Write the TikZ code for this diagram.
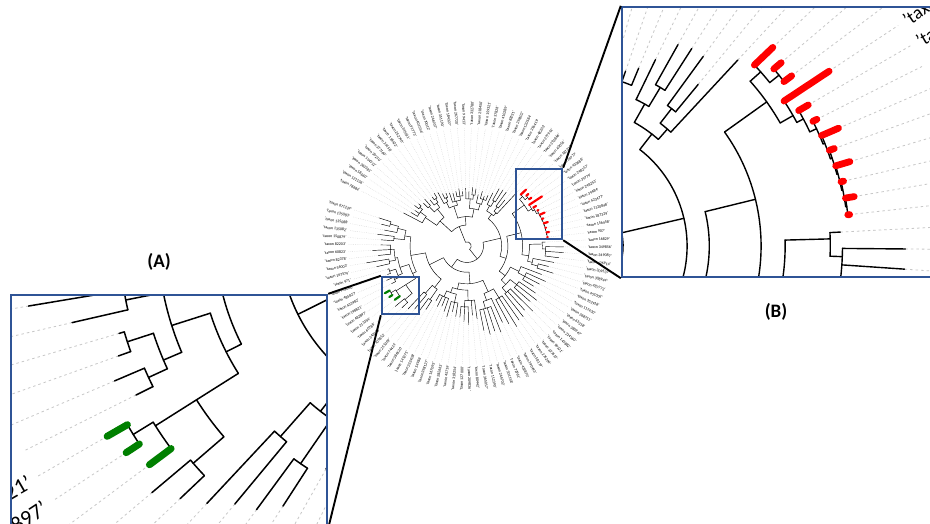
\documentclass[tikz,border=0pt]{standalone}
\usepackage{fontspec}
\setmainfont{Carlito}
\definecolor{boxblue}{RGB}{47,84,150}
\definecolor{tred}{RGB}{255,0,0}
\definecolor{tgreen}{RGB}{0,128,0}
\newcommand\Rdot{113}
\newcommand\Rlab{115}
\newcommand\brw{0.45pt}
\newcommand\colw{2.2pt}
\newcommand\lfs{4}
% node: position p, parent radius, radius, arc from a to b
\newcommand\TN[5]{%
 \draw[tbr] ({lf(#1)}:#2) -- ({lf(#1)}:#3);
 \draw[tbr] ({lf(#4)}:#3) arc[start angle={lf(#4)}, end angle={lf(#5)}, radius=#3];}
% leaf: index, r0, r1
\newcommand\TL[3]{%
 \draw[tdot] ({lf(#1)}:#3) -- ({lf(#1)}:\Rdot);
 \draw[tbr] ({lf(#1)}:#2) -- ({lf(#1)}:#3);}
% coloured leaf: colour, index, r0, r1
\newcommand\TC[4]{%
 \draw[tdot] ({lf(#2)}:#4) -- ({lf(#2)}:\Rdot);
 \draw[tcol=#1] ({lf(#2)}:#3) -- ({lf(#2)}:#4);}
\newcommand\TreeBody{%
 \draw[tbr] ({lf(12)}:4) arc[start angle={lf(12)}, end angle={lf(60)}, radius=4];
 % clade A
 \TN{12}{4}{20}{4.5}{17.5}
 \TN{4.5}{20}{35}{2}{7}
 \TN{2}{35}{48}{0}{2.5} \TL{0}{48}{68}
 \TN{2.5}{48}{55}{1}{3.5} \TL{1}{55}{62} \TL{2}{55}{60}
 \TN{3.5}{55}{58}{3}{4} \TL{3}{58}{63} \TL{4}{58}{61}
 \TN{7}{35}{45}{5.5}{8}
 \TN{5.5}{45}{52}{5}{6} \TL{5}{52}{58} \TL{6}{52}{60}
 \TN{8}{45}{50}{7}{8.5} \TL{7}{50}{56}
 \TN{8.5}{50}{54}{8}{9} \TL{8}{54}{57} \TL{9}{54}{59}
 \TN{17.5}{20}{28}{13}{21.5}
 \TN{13}{28}{40}{11}{14.5}
 \TN{11}{40}{46}{10}{11.5} \TL{10}{46}{58}
 \TN{11.5}{46}{50}{11}{12} \TL{11}{50}{55} \TL{12}{50}{54}
 \TN{14.5}{40}{44}{13}{16} \TL{13}{44}{53} \TL{14}{44}{52}
 \TN{16}{44}{48}{15}{17} \TL{15}{48}{53} \TL{16}{48}{55} \TL{17}{48}{52}
 \TN{21.5}{28}{36}{19.5}{23.5}
 \TN{19.5}{36}{45}{18}{20.5} \TL{18}{45}{55} \TL{19}{45}{52}
 \TN{20.5}{45}{49}{20}{21} \TL{20}{49}{56} \TL{21}{49}{55}
 \TN{23.5}{36}{42}{22}{24} \TL{22}{42}{50}
 \TN{24}{42}{47}{23}{25} \TL{23}{47}{54} \TL{24}{47}{50} \TL{25}{47}{52}
 % clade B
 \TN{60}{4}{15.7}{41}{82}
 \TN{41}{15.7}{33}{29.5}{50}
 \TN{29.5}{33}{38.3}{27}{30.5}
 \TN{27}{38.3}{44}{26}{27.5} \TL{26}{44}{56}
 \TN{27.5}{44}{50}{27}{28} \TL{27}{50}{62.4} \TL{28}{50}{63.4}
 \TN{30.5}{38.3}{42}{29.5}{31} \TL{31}{42}{68.6}
 \TN{29.5}{42}{47}{29}{30} \TL{29}{47}{63.4} \TL{30}{47}{56.6}
 \TN{50}{33}{39}{40.8}{56}
 \TN{40.8}{39}{53}{34.4}{47.5}
 \TN{34.4}{53}{67}{32.6}{36.1}
 \TN{32.6}{67}{70.8}{32}{33.5}
 \TN{33.5}{70.8}{74}{33}{34}
 \TN{36.1}{67}{71}{35}{36.6}
 \TN{36.6}{71}{73}{36}{37.5}
 \TN{37.5}{73}{75}{37}{38.5}
 \TN{38.5}{75}{75.5}{38}{39.5}
 \TN{39.5}{75.5}{76}{39}{40.5}
 \TN{40.5}{76}{76.3}{40}{41.5}
 \TN{41.5}{76.3}{76.6}{41}{42.5}
 \TN{42.5}{76.6}{76.9}{42}{43}
 \TC{tred}{32}{70.8}{77.7}
 \TC{tred}{33}{74}{76.6} \TC{tred}{34}{74}{76.6}
 \TC{tred}{35}{71}{85.6}
 \TC{tred}{36}{73}{76}
 \TC{tred}{37}{75}{76.2}
 \TC{tred}{38}{75.5}{80.5}
 \TC{tred}{39}{76}{77.4}
 \TC{tred}{40}{76.3}{80.3}
 \TC{tred}{41}{76.6}{77.3}
 \TC{tred}{42}{76.9}{79.3}
 \TC{tred}{43}{76.9}{77.4}
 \TN{47.5}{53}{59.5}{44.4}{49}
 \TN{44.4}{59.5}{71.7}{44}{45.5} \TL{44}{71.7}{74.5}
 \TN{45.5}{71.7}{75}{45}{47} \TL{45}{75}{92} \TL{46}{75}{92} \TL{47}{75}{88}
 \TN{49}{59.5}{64}{48}{49.5} \TL{48}{64}{84}
 \TN{49.5}{64}{70}{49}{50} \TL{49}{70}{80} \TL{50}{70}{86}
 \TN{56}{39}{46}{52.5}{58}
 \TN{52.5}{46}{55}{51}{53} \TL{51}{55}{76}
 \TN{53}{55}{62}{52}{54} \TL{52}{62}{82} \TL{53}{62}{78} \TL{54}{62}{74}
 \TN{58}{46}{52}{56}{59.5}
 \TN{56}{52}{60}{55}{57} \TL{55}{60}{79} \TL{56}{60}{84} \TL{57}{60}{80}
 \TN{59.5}{52}{58}{58}{60} \TL{58}{58}{88} \TL{59}{58}{82} \TL{60}{58}{86}
 \TN{82}{15.7}{25}{70}{90}
 \TN{70}{25}{36}{64}{75}
 \TN{64}{36}{48}{62}{65.5}
 \TN{62}{48}{58}{61}{63} \TL{61}{58}{86} \TL{62}{58}{90} \TL{63}{58}{84}
 \TN{65.5}{48}{55}{64}{66.5} \TL{64}{55}{80}
 \TN{66.5}{55}{62}{65}{68} \TL{65}{62}{88} \TL{66}{62}{85} \TL{67}{62}{87} \TL{68}{62}{82}
 \TN{75}{36}{42}{71}{77}
 \TN{71}{42}{52}{69}{72} \TL{69}{52}{70} \TL{70}{52}{66}
 \TN{72}{52}{58}{71}{73} \TL{71}{58}{75} \TL{72}{58}{72} \TL{73}{58}{68}
 \TN{77}{42}{47}{75}{78.5}
 \TN{75}{47}{55}{74}{76} \TL{74}{55}{68} \TL{75}{55}{64} \TL{76}{55}{70}
 \TN{78.5}{47}{53}{77}{80} \TL{77}{53}{66} \TL{78}{53}{62} \TL{79}{53}{64} \TL{80}{53}{60}
 \TN{90}{25}{40}{82.5}{95}
 \TN{82.5}{40}{50}{81.5}{83.5}
 \TN{81.5}{50}{62}{81}{82} \TL{81}{62}{72} \TL{82}{62}{76}
 \TN{83.5}{50}{60}{83}{84} \TL{83}{60}{78} \TL{84}{60}{82}
 \TN{95}{40}{54.2}{89.9}{100.5}
 \TN{89.9}{54.2}{58}{88.3}{92.6}
 \TN{88.3}{58}{69}{85.8}{88.3}
 \TN{85.8}{69}{78}{85}{86} \TL{85}{78}{85.4} \TL{86}{78}{89.2}
 \TN{88.3}{69}{79.8}{87}{88.5}
 \TN{88.5}{79.8}{85}{88}{89}
 \TC{tgreen}{87}{79.8}{85.8}
 \TC{tgreen}{88}{85}{88.5}
 \TC{tgreen}{89}{85}{90.2}
 \TN{92.6}{58}{67}{91}{95}
 \TN{91}{67}{71.4}{90.5}{92.5}
 \TN{90.5}{71.4}{76}{90}{91} \TL{90}{76}{80.2} \TL{91}{76}{83.2}
 \TN{92.5}{71.4}{77.5}{92}{93} \TL{92}{77.5}{80.4} \TL{93}{77.5}{78.7}
 \TN{95}{67}{69.5}{94.5}{97}
 \TN{94.5}{69.5}{75.5}{94}{95} \TL{94}{75.5}{88.2} \TL{95}{75.5}{97}
 \TN{97}{69.5}{73}{96}{98} \TL{96}{73}{85} \TL{97}{73}{90} \TL{98}{73}{82}
 \TN{100.5}{54.2}{60}{99.5}{102}
 \TN{99.5}{60}{70}{99}{100} \TL{99}{70}{82} \TL{100}{70}{86}
 \TN{102}{60}{68}{101}{102.5} \TL{101}{68}{80}
 \TN{102.5}{68}{76}{102}{103} \TL{102}{76}{84} \TL{103}{76}{88}
}
\newcommand\AllLabels{0/78684,1/121136,2/58660,3/263381,4/194312,5/30210,6/377160,7/29158,8/118422,9/262740,
  10/345611,11/91773,12/401556,13/70012,14/246937,15/351190,16/184327,17/267720,18/99413,19/332780,
  20/218450,21/159321,22/37826,23/410289,24/88731,25/296502,26/120584,27/355419,28/48203,29/277914,
  30/392866,31/40055,32/187328,33/39777,34/433688,35/248257,36/39779,37/248253,38/39484,39/423477,
  40/1120848,41/187329,42/156458,43/907,44/16829,45/349856,46/349087,47/426914,48/309537,49/308944,
  50/487772,51/451003,52/352918,53/117430,54/268751,55/63318,56/380947,57/214560,58/145882,59/90321,
  60/327615,61/276204,62/58119,63/190443,64/433870,65/72961,66/301158,67/244702,68/112390,69/365017,
  70/80442,71/209836,72/127000,73/318254,74/45719,75/282663,76/167093,77/398127,78/54986,79/233408,
  80/141275,81/386520,82/74431,83/255369,84/109852,85/342096,86/60788,87/213354,88/482897,89/198821,
  90/433982,91/485827,92/919080,93/971,94/167579,95/56003,96/82378,97/60823,98/82203,99/150879,
  100/135082,101/135088,102/135083,103/671224}
\newcommand\TreeLabels[2]{%
 \foreach \i/\t in #2{%
  \pgfmathsetmacro\ang{mod(lf(\i),360)}%
  \pgfmathtruncatemacro\lft{(\ang>90 && \ang<270) ? 1 : 0}%
  \ifnum\lft=1
   \node[tlab,anchor=east,rotate={180-\ang}] (#1\i) at ({\ang}:\Rlab) {'taxon \t'};
  \else
   \node[tlab,anchor=west,rotate={-\ang}] (#1\i) at ({\ang}:\Rlab) {'taxon \t'};
  \fi}}
\begin{document}
\begin{tikzpicture}[x=1pt,y=-1pt,
  declare function={lf(\i)=207.5+3.4*\i;},
  tbr/.style={line width=\brw, black, line cap=round, line join=round},
  tdot/.style={line width=0.3pt, black!22, dash pattern=on 0.6pt off 1.2pt},
  tcol/.style={line width=\colw, line cap=round, draw=#1},
  tlab/.style={inner sep=0pt, font=\fontsize{\lfs}{\lfs}\selectfont, text=black},
  boxn/.style={draw=boxblue, line width=2.4pt, inner sep=0pt, fill=none},
  conn/.style={line width=1.9pt, black},
  tag/.style={font=\bfseries\fontsize{19}{19}\selectfont}]
\useasboundingbox (0,0) rectangle (930,523);
\fill[white] (0,0) rectangle (930,523);
% main tree
\begin{scope}[shift={(467,246)}, scale=1.05]
 \TreeBody
 \TreeLabels{m}{\AllLabels}
\end{scope}
% small boxes
\node[boxn, minimum width=46pt, minimum height=70pt] (smallB) at (539,204) {};
\node[boxn, minimum width=37pt, minimum height=37pt] (smallA) at (400.5,295.5) {};
% inset B
\begin{scope}
 \clip (622,7) rectangle (934,277);
 \fill[white] (622,7) rectangle (934,277);
 \renewcommand\brw{1.4pt}\renewcommand\colw{6.8pt}\renewcommand\lfs{18.5}
 \renewcommand\Rdot{108}\renewcommand\Rlab{110}
 \tikzset{tdot/.style={line width=0.8pt, black!22, dash pattern=on 2.5pt off 3pt}}
 \begin{scope}[shift={(565,246)}, scale=3.7]
  \TreeBody
  \TreeLabels{b}{{34/433688,35/248257,36/39779}}
 \end{scope}
\end{scope}
% inset A
\begin{scope}
 \clip (11,295) rectangle (327,527);
 \fill[white] (11,295) rectangle (327,527);
 \renewcommand\brw{1.5pt}\renewcommand\colw{7pt}\renewcommand\lfs{22}
 \renewcommand\Rdot{108}\renewcommand\Rlab{110}
 \tikzset{tdot/.style={line width=0.8pt, black!22, dash pattern=on 2.5pt off 3pt}}
 \begin{scope}[shift={(459,234)}, scale=4.5]
  \TreeBody
  \TreeLabels{a}{{88/482897,89/198821}}
 \end{scope}
\end{scope}
\node[boxn, minimum width=312pt, minimum height=270pt] (insetB) at (778,142) {};
\node[boxn, minimum width=316pt, minimum height=232pt] (insetA) at (169,411) {};
% connectors
\draw[conn] (smallB.north east) -- (insetB.north west);
\draw[conn] (smallB.south east) -- (insetB.south west);
\draw[conn] (smallA.north west) -- (insetA.north east);
\draw[conn] (smallA.south west) -- (insetA.south east);
% tags
\node[tag] (tagA) at (159,262) {(A)};
\node[tag] (tagB) at (776,312) {(B)};
\end{tikzpicture}
\end{document}
